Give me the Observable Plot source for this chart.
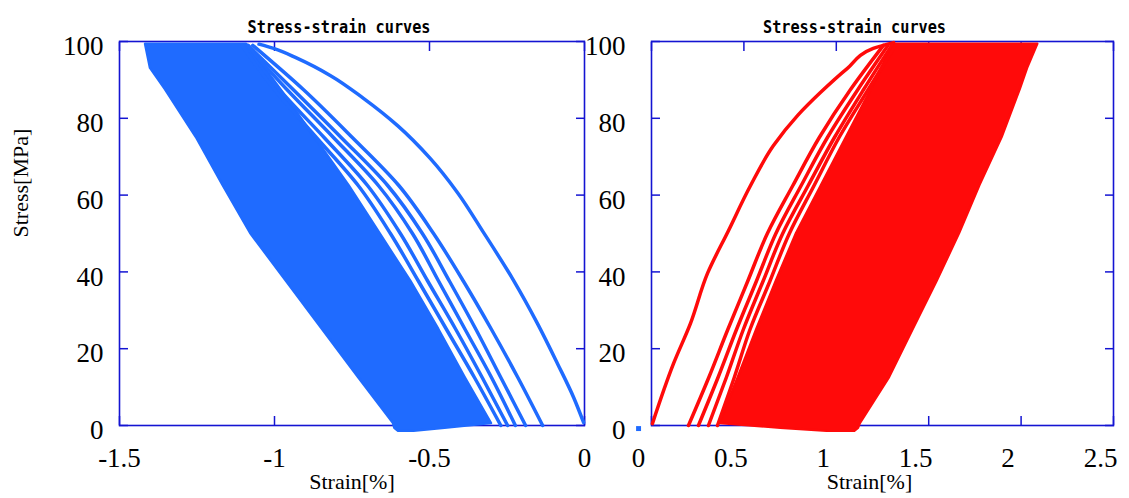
<!DOCTYPE html>
<html><head><meta charset="utf-8">
<script src="https://cdn.jsdelivr.net/npm/d3@7"></script>
<script src="https://cdn.jsdelivr.net/npm/@observablehq/plot@0.6"></script>
<style>
html,body{margin:0;padding:0;background:#fff;}
#wrap{position:relative;width:1129px;height:498px;overflow:hidden;background:#fff;}
#wrap svg{position:absolute;top:0;}
</style></head><body><div id="wrap"></div>
<script>
// ---------- data ----------
const yTicks = [0, 20, 40, 60, 80, 100];
const compStrainTicks = [-1.5, -1, -0.5, 0];
const tensStrainTicks = [0, 0.5, 1, 1.5, 2, 2.5];
const chartTitle = "Stress-strain curves";
const xLabel = "Strain[%]";
const yLabel = "Stress[MPa]";

// compression side (blue): first loading curve
const compFirstStress = [0.8, 7.3, 16.1, 26.6, 37.8, 50.3, 60.7, 69.5, 78.1, 85.2, 91.1, 95.6, 98.2, 99.3];
const compFirstStrain = [-0.003, -0.035, -0.087, -0.152, -0.229, -0.326, -0.41, -0.497, -0.603, -0.713, -0.819, -0.926, -1.003, -1.05];
// following distinct cycles (stress levels shared)
const cycleStress = [0, 12.5, 25, 37.5, 50, 62.5, 75, 87.5, 99];
const compCycle2 = [-0.135, -0.215, -0.30, -0.39, -0.487, -0.599, -0.749, -0.907, -1.07];
const compCycle3 = [-0.19, -0.27, -0.35, -0.435, -0.523, -0.635, -0.785, -0.94, -1.085];
const compCycle4 = [-0.223, -0.30, -0.385, -0.47, -0.555, -0.665, -0.81, -0.96, -1.09];
const compCycle5 = [-0.248, -0.33, -0.415, -0.505, -0.594, -0.70, -0.84, -0.985, -1.10];
const compCycle6 = [-0.27, -0.355, -0.445, -0.535, -0.626, -0.73, -0.865, -1.0, -1.105];
// dense band of later cycles: strain envelope at stress levels
const bandStress = [-1.5, -0.7, 0.5, 12.5, 25, 37.5, 50, 62.5, 75, 87.5, 93, 99.3];
const compBandLow = [-0.60, -0.612, -0.616, -0.729, -0.845, -0.961, -1.077, -1.166, -1.252, -1.352, -1.40, -1.416];
const compBandHigh = [-0.55, -0.45, -0.30, -0.385, -0.47, -0.56, -0.66, -0.76, -0.87, -0.98, -1.03, -1.09];

// tension side (red)
const tensFirstStress = [0.5, 16.1, 26.6, 39.6, 50.8, 62.5, 72.9, 80.7, 86.7, 93, 98.2, 99.7];
const tensFirstStrain = [0.005, 0.119, 0.211, 0.303, 0.417, 0.536, 0.66, 0.79, 0.914, 1.06, 1.2, 1.31];
const tensCycle2 = [0.2, 0.31, 0.413, 0.52, 0.627, 0.765, 0.908, 1.077, 1.255];
const tensCycle3 = [0.254, 0.36, 0.46, 0.567, 0.673, 0.81, 0.952, 1.117, 1.28];
const tensCycle4 = [0.308, 0.405, 0.497, 0.603, 0.71, 0.848, 0.99, 1.148, 1.30];
const tensCycle5 = [0.357, 0.448, 0.533, 0.64, 0.746, 0.88, 1.015, 1.173, 1.32];
const tensBandLow = [0.95, 0.70, 0.37, 0.47, 0.57, 0.675, 0.785, 0.92, 1.055, 1.19, 1.245, 1.31];
const tensBandHigh = [1.10, 1.12, 1.13, 1.288, 1.416, 1.545, 1.667, 1.777, 1.897, 1.995, 2.035, 2.09];

// stray marker near the right panel origin
const strayStrain = [-0.07];
const strayStress = [-0.8];

// ---------- build tables ----------
function curveRows(list) {
  return list.flatMap(c => c.stress.map((s, i) => ({curve: c.name, stress: s, strain: c.strain[i]})));
}
function bandRows(lo, hi) {
  return bandStress.map((s, i) => ({stress: s, lo: lo[i], hi: hi[i]}));
}
const compRows = curveRows([
  {name: "c1", stress: compFirstStress, strain: compFirstStrain},
  {name: "c2", stress: cycleStress, strain: compCycle2},
  {name: "c3", stress: cycleStress, strain: compCycle3},
  {name: "c4", stress: cycleStress, strain: compCycle4},
  {name: "c5", stress: cycleStress, strain: compCycle5},
  {name: "c6", stress: cycleStress, strain: compCycle6}
]);
const tensRows = curveRows([
  {name: "t1", stress: tensFirstStress, strain: tensFirstStrain},
  {name: "t2", stress: cycleStress, strain: tensCycle2},
  {name: "t3", stress: cycleStress, strain: tensCycle3},
  {name: "t4", stress: cycleStress, strain: tensCycle4},
  {name: "t5", stress: cycleStress, strain: tensCycle5}
]);
const strayRows = strayStrain.map((x, i) => ({strain: x, stress: strayStress[i]}));

const BLUE = "#1f6bff", RED = "#ff0a0a", FRAME = "#1414d2";
const SERIF = "Liberation Serif, Times New Roman, serif";

function panel(o) {
  const marks = [
    Plot.frame({stroke: FRAME, strokeWidth: 1.6}),
    Plot.axisX(o.xTicks, {anchor: "bottom", tickSize: 9, dy: -9, stroke: FRAME, strokeWidth: 1.5, tickFormat: () => "", label: null}),
    Plot.axisX(o.xTicks, {anchor: "top", tickSize: 9, dy: 9, stroke: FRAME, strokeWidth: 1.5, tickFormat: () => "", label: null}),
    Plot.axisY(yTicks, {anchor: "left", tickSize: 9, dx: 9, stroke: FRAME, strokeWidth: 1.5, tickFormat: () => "", label: null}),
    Plot.axisY(yTicks, {anchor: "right", tickSize: 9, dx: -9, stroke: FRAME, strokeWidth: 1.5, tickFormat: () => "", label: null}),
    Plot.axisX(o.xTicks, {anchor: "bottom", tickSize: 0, tickPadding: 22, dx: o.labelDx, tickFormat: d => String(d), fill: "black", fontSize: 27, fontFamily: SERIF, label: null}),
    Plot.axisY(yTicks, {anchor: "left", tickSize: 0, tickPadding: o.yPad, dy: 5, tickFormat: d => String(d), fill: "black", fontSize: 27, fontFamily: SERIF, label: null}),
    Plot.text([xLabel], {frameAnchor: "bottom", dy: 63, dx: o.labelDx, fontSize: 22, fontFamily: SERIF, fill: "black"}),
    Plot.text([chartTitle], {frameAnchor: "top", dy: -21, dx: o.titleDx, fontSize: 18, fontWeight: "bold", fontFamily: "DejaVu Sans Mono, monospace", fill: "black"}),
    Plot.areaX(o.band, {y: "stress", x1: "lo", x2: "hi", fill: o.color, stroke: o.color, strokeWidth: 2.5, curve: "linear"}),
    Plot.line(o.rows, {x: "strain", y: "stress", z: "curve", stroke: o.color, strokeWidth: 3.5, curve: "monotone-y"})
  ];
  if (o.yTitle) marks.push(Plot.text([yLabel], {frameAnchor: "left", dx: -99, dy: 4, rotate: -90, fontSize: 22, fontFamily: SERIF, fill: "black"}));
  if (o.extra) marks.push(...o.extra);
  const svg = Plot.plot({
    width: o.width, height: 498,
    marginLeft: o.ml, marginRight: o.mr, marginTop: 41, marginBottom: 73,
    style: {background: "transparent", overflow: "visible"},
    x: {domain: o.xDomain},
    y: {domain: [0, 100]},
    marks
  });
  svg.style.left = o.left + "px";
  d3.select(svg).selectAll("text").filter(function() { return this.textContent === chartTitle; })
    .attr("textLength", 183).attr("lengthAdjust", "spacingAndGlyphs");
  return svg;
}

const wrap = document.getElementById("wrap");
wrap.appendChild(panel({
  left: 0, width: 600, ml: 119, mr: 16, xDomain: [-1.5, 0], xTicks: compStrainTicks,
  band: bandRows(compBandLow, compBandHigh), rows: compRows, color: BLUE,
  labelDx: 0, titleDx: -13, yPad: 16, yTitle: true
}));
wrap.appendChild(panel({
  left: 560, width: 569, ml: 91, mr: 16, xDomain: [0, 2.5], xTicks: tensStrainTicks,
  band: bandRows(tensBandLow, tensBandHigh), rows: tensRows, color: RED,
  labelDx: -13, titleDx: -28, yPad: 26, yTitle: false,
  extra: [Plot.dot(strayRows, {x: "strain", y: "stress", symbol: "square", r: 2.8, fill: BLUE, stroke: null})]
}));
</script></body></html>
